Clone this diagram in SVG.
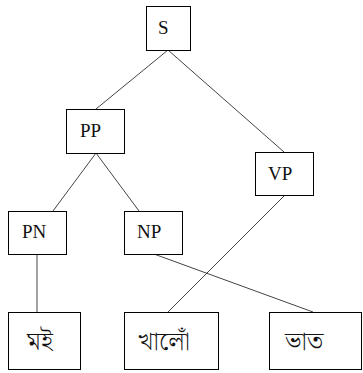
<svg xmlns="http://www.w3.org/2000/svg" width="363" height="373" viewBox="0 0 363 373">
<style>
.box{fill:#fff;stroke:#000;stroke-width:1}
.lbl{font-family:"Liberation Serif","DejaVu Serif",serif;font-size:19px;fill:#111}
.bn{font-family:"Noto Serif Bengali","Noto Sans Bengali","Noto Sans",sans-serif;font-size:26px;font-weight:300;fill:#111}
.edge{stroke:#444;stroke-width:1;fill:none}
</style>
<rect width="363" height="373" fill="#fff"/>
<g id="connectors">
<line class="edge" x1="168" y1="50" x2="96" y2="109"/>
<line class="edge" x1="168" y1="50" x2="284" y2="152"/>
<line class="edge" x1="96" y1="153" x2="53" y2="211"/>
<line class="edge" x1="96" y1="153" x2="139" y2="211"/>
<line class="edge" x1="37" y1="254" x2="37" y2="312"/>
<line class="edge" x1="154" y1="254" x2="313" y2="312"/>
<line class="edge" x1="285" y1="195" x2="168" y2="312"/>
</g>
<g id="S"><rect class="box" x="146.5" y="6.5" width="44" height="44"/><text class="lbl" x="158" y="34">S</text></g>
<g id="PP"><rect class="box" x="66.5" y="109.5" width="58" height="44"/><text class="lbl" x="80" y="137">PP</text></g>
<g id="VP"><rect class="box" x="255.5" y="152.5" width="58" height="43"/><text class="lbl" x="268" y="180">VP</text></g>
<g id="PN"><rect class="box" x="8.5" y="211.5" width="58" height="43"/><text class="lbl" x="22" y="238">PN</text></g>
<g id="NP"><rect class="box" x="124.5" y="211.5" width="58" height="43"/><text class="lbl" x="137" y="238">NP</text></g>
<g id="moi"><rect class="box" x="8.5" y="312.5" width="72" height="57"/><text class="bn" x="27" y="350">মই</text></g>
<g id="khalo"><rect class="box" x="124.5" y="312.5" width="94" height="57"/><text class="bn" x="138" y="350">খালোঁ</text></g>
<g id="bhat"><rect class="box" x="269.5" y="312.5" width="92" height="57"/><text class="bn" x="285" y="350">ভাত</text></g>
</svg>
